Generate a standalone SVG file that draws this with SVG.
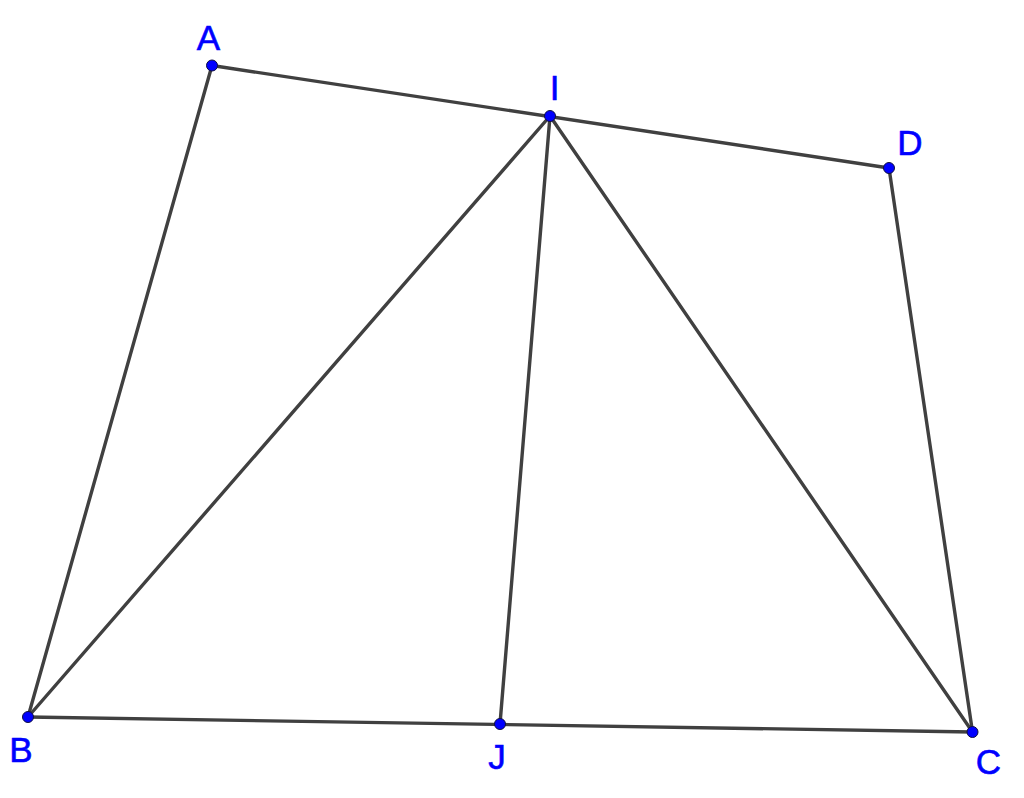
<svg xmlns="http://www.w3.org/2000/svg" width="1024" height="798" viewBox="0 0 1024 798">
<style>
.seg{stroke:#404040;stroke-width:3.4;stroke-linecap:round;fill:none}
.pt{fill:#0000ff;stroke:#101040;stroke-width:1}
.lbl{font-family:"Liberation Sans",Arial,sans-serif;font-size:35px;fill:#0000ff;stroke:#0000ff;stroke-width:0.6;text-anchor:middle}
</style>
<rect width="1024" height="798" fill="#ffffff"/>
<g id="connectors">
<line class="seg" x1="212" y1="65.5" x2="889" y2="168"/>
<line class="seg" x1="212" y1="65.5" x2="28" y2="717"/>
<line class="seg" x1="28" y1="717" x2="972.5" y2="732"/>
<line class="seg" x1="972.5" y1="732" x2="889" y2="168"/>
<line class="seg" x1="550" y1="116" x2="28" y2="717"/>
<line class="seg" x1="550" y1="116" x2="500" y2="724"/>
<line class="seg" x1="550" y1="116" x2="972.5" y2="732"/>
</g>
<g id="A"><circle class="pt" cx="212" cy="65.5" r="5.5"/><text class="lbl" x="208.5" y="50">A</text></g>
<g id="I"><circle class="pt" cx="550" cy="116" r="5.5"/><text class="lbl" x="554.5" y="100">I</text></g>
<g id="D"><circle class="pt" cx="889" cy="168" r="5.5"/><text class="lbl" x="910" y="155">D</text></g>
<g id="B"><circle class="pt" cx="28" cy="717" r="5.5"/><text class="lbl" x="21" y="762">B</text></g>
<g id="J"><circle class="pt" cx="500" cy="724" r="5.5"/><text class="lbl" x="497" y="769">J</text></g>
<g id="C"><circle class="pt" cx="972.5" cy="732" r="5.5"/><text class="lbl" x="988.5" y="774">C</text></g>
</svg>
